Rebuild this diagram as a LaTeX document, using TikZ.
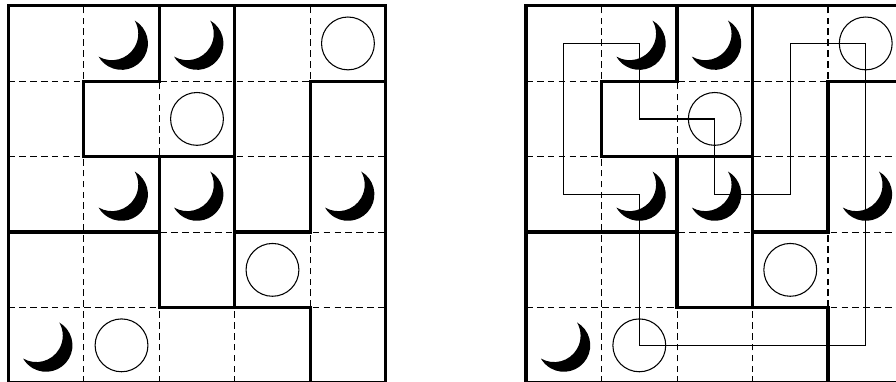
\documentclass[tikz,border=0pt]{standalone}
\begin{document}
\begin{tikzpicture}[
  gridline/.style={line width=0.4pt, dash pattern=on 2.5pt off 1.6pt},
  region/.style={line width=1.25pt, line cap=rect, line join=miter},
  loopline/.style={line width=0.5pt, line join=miter},
  disc/.style={line width=0.4pt},
]
\useasboundingbox (-0.110,0.0145) rectangle (11.761,5.0755);
\foreach \ox in {0,6.86} {
  \begin{scope}[xshift=\ox cm]
    % dashed cell grid
    \foreach \i in {1,...,4} {
      \draw[gridline] (\i,0) -- (\i,5);
      \draw[gridline] (0,\i) -- (5,\i);
    }
    % moons (crescents)
    \foreach \c/\r in {1/0,2/0,1/2,2/2,4/2,0/4} {
      \fill (\c+0.5,4.5-\r) ++(60:0.35)
        arc[start angle=60, end angle=-150, radius=0.35]
        arc[start angle=240, end angle=390, radius=0.35] -- cycle;
    }
    % circles
    \foreach \c/\r in {4/0,2/1,3/3,1/4} {
      \draw[disc] (\c+0.5,4.5-\r) circle (0.35);
    }
    % region borders
    \draw[region] (0,0) rectangle (5,5);
    \draw[region] (2,5) -- (2,4) -- (1,4) -- (1,3) -- (3,3);
    \draw[region] (3,5) -- (3,1);
    \draw[region] (2,3) -- (2,1) -- (4,1) -- (4,0);
    \draw[region] (0,2) -- (2,2);
    \draw[region] (3,2) -- (4,2) -- (4,4) -- (5,4);
  \end{scope}
}
% solution loop on the right grid
\begin{scope}[xshift=6.86cm]
  \coordinate (p1) at (0.5,4.5);
  \coordinate (p2) at (1.5,4.5);
  \coordinate (p3) at (1.5,3.5);
  \coordinate (p4) at (2.5,3.5);
  \coordinate (p5) at (2.5,2.5);
  \coordinate (p6) at (3.5,2.5);
  \coordinate (p7) at (3.5,4.5);
  \coordinate (p8) at (4.5,4.5);
  \coordinate (p9) at (4.5,0.5);
  \coordinate (p10) at (1.5,0.5);
  \coordinate (p11) at (1.5,2.5);
  \coordinate (p12) at (0.5,2.5);
  \draw[loopline] (p1) -- (p2) -- (p3) -- (p4) -- (p5) -- (p6) -- (p7) -- (p8) -- (p9) -- (p10) -- (p11) -- (p12) -- cycle;
\end{scope}
\end{tikzpicture}
\end{document}
